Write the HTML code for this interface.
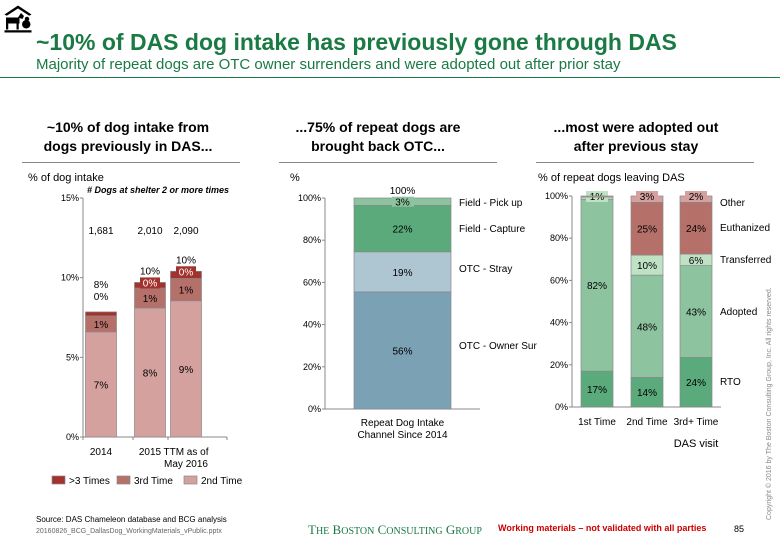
<!DOCTYPE html>
<html><head><meta charset="utf-8">
<style>
body{margin:0;width:780px;height:540px;background:#fff;font-family:"Liberation Sans",sans-serif;overflow:hidden;position:relative}
.t{position:absolute;white-space:nowrap}
</style></head><body>
<svg width="30" height="30" style="position:absolute;left:3px;top:4px" viewBox="0 0 20 20">
<path d="M1 7 L10 1 L19 7 L17.5 7.8 L10 3 L2.5 7.8Z" fill="#000"/>
<rect x="2" y="9" width="9" height="4" fill="#000"/><rect x="2" y="13" width="1.5" height="4" fill="#000"/><rect x="9" y="13" width="1.5" height="4" fill="#000"/>
<path d="M10 9 L12 6 L14 8 L13 10Z" fill="#000"/><circle cx="15.5" cy="13.5" r="2.8" fill="#000"/><circle cx="16" cy="10" r="1.5" fill="#000"/>
<rect x="1" y="17.5" width="18" height="1.5" fill="#000"/></svg>
<div class="t" style="left:36px;top:29px;font-size:23px;font-weight:bold;color:#1a7a43">~10% of DAS dog intake has previously gone through DAS</div>
<div class="t" style="left:36px;top:56px;font-size:15px;color:#1a7a43">Majority of repeat dogs are OTC owner surrenders and were adopted out after prior stay</div>
<div style="position:absolute;left:0;top:77px;width:780px;height:1px;background:#1a7a43"></div>

<div class="t" style="left:28px;top:118px;width:200px;text-align:center;font-size:14px;font-weight:bold;line-height:19px">~10% of dog intake from<br>dogs previously in DAS...</div>
<div class="t" style="left:278px;top:118px;width:200px;text-align:center;font-size:14px;font-weight:bold;line-height:19px">...75% of repeat dogs are<br>brought back OTC...</div>
<div class="t" style="left:536px;top:118px;width:200px;text-align:center;font-size:14px;font-weight:bold;line-height:19px">...most were adopted out<br>after previous stay</div>
<div style="position:absolute;left:22px;top:162px;width:218px;height:1px;background:#888"></div>
<div style="position:absolute;left:279px;top:162px;width:218px;height:1px;background:#888"></div>
<div style="position:absolute;left:536px;top:162px;width:218px;height:1px;background:#888"></div>

<svg id="c" width="780" height="540" style="position:absolute;left:0;top:0" font-family="Liberation Sans, sans-serif" font-size="10"></svg>

<div class="t" style="left:36px;top:515px;font-size:8px">Source: DAS Chameleon database and BCG analysis</div>
<div class="t" style="left:36px;top:528px;font-size:7px;color:#666">20160826_BCG_DallasDog_WorkingMaterials_vPublic.pptx</div>
<div class="t" style="left:308px;top:522px;font-size:13px;font-family:'Liberation Serif',serif;color:#1a7a43">T<span style="font-size:10px">HE</span> B<span style="font-size:10px">OSTON</span> C<span style="font-size:10px">ONSULTING</span> G<span style="font-size:10px">ROUP</span></div>
<div class="t" style="left:498px;top:523px;font-size:9px;font-weight:bold;color:#c00">Working materials – not validated with all parties</div>
<div class="t" style="left:734px;top:524px;font-size:9px">85</div>
<div class="t" style="left:766px;top:520px;font-size:7px;color:#888;transform:rotate(-90deg);transform-origin:0 0">Copyright © 2016 by The Boston Consulting Group, Inc. All rights reserved.</div>

<script>
// Chart 1
const c1Cats=["2014","2015","TTM as of|May 2016"];
const c1Second=[6.6,8.1,8.55];
const c1Third=[1.0,1.25,1.4];
const c1More=[0.25,0.35,0.45];
const c1Counts=["1,681","2,010","2,090"];
const c1TotLbl=["8%","10%","10%"];
const c1SecLbl=["7%","8%","9%"];
const c1ThirdLbl=["1%","1%","1%"];
const c1MoreLbl=["0%","0%","0%"];
const c1Ticks=[0,5,10,15];
// Chart 2
const c2Series=["OTC - Owner Sur","OTC - Stray","Field - Capture","Field - Pick up"];
const c2Vals=[55.5,19,22,3.5];
const c2Lbl=["56%","19%","22%","3%"];
// Chart 3
const c3Cats=["1st Time","2nd Time","3rd+ Time"];
const c3Series=["RTO","Adopted","Transferred","Euthanized","Other"];
const c3Rto=[17,14,23.5];
const c3Adopted=[81.5,48.5,43.5];
const c3Transferred=[1,9.5,5.5];
const c3Euth=[0,25,24.5];
const c3Other=[0.5,3,3];
const c3RtoL=["17%","14%","24%"],c3AdoL=["82%","48%","43%"],c3TrL=["1%","10%","6%"],c3EuL=["","25%","24%"],c3OtL=["","3%","2%"];
const pctTicks=[0,20,40,60,80,100];

const S=document.getElementById('c'),NS='http://www.w3.org/2000/svg';
function el(t,a,txt){const e=document.createElementNS(NS,t);for(const k in a)e.setAttribute(k,a[k]);if(txt!==undefined)e.textContent=txt;S.appendChild(e);return e;}
function tx(x,y,s,anchor,name,extra){const e=el('text',Object.assign({x:x,y:y,'text-anchor':anchor||'middle'},extra||{}),s);

return e;}
function rc(x,y,w,h,f,name){const e=el('rect',{x:x,y:y,width:w,height:Math.max(h,0),fill:f,stroke:'#888','stroke-width':0.7});

return e;}
function ln(x1,y1,x2,y2,name){const e=el('line',{x1:x1,y1:y1,x2:x2,y2:y2,stroke:'#888','stroke-width':1});

}

// ---- chart 1
{const ax=83,y0=437,yt=198,max=15,y=v=>y0-(y0-yt)*v/max,cx=[101,150,186],bw=31;
tx(28,181,"% of dog intake",'start','c1-y-title',{'font-size':11});
tx(87,193,"# Dogs at shelter 2 or more times",'start','c1-annotation',{'font-size':9,'font-weight':'bold','font-style':'italic'});
ln(ax,yt,ax,y0,'c1-y-axis');ln(ax,y0,227,y0,'c1-x-axis');
c1Ticks.forEach(t=>{ln(ax-3,y(t),ax,y(t),'c1-y-tick');tx(ax-4,y(t)+3,t+"%",'end','c1-y-tick-label',{'font-size':9});});
[83,133,168,227].forEach(x=>ln(x,y0,x,y0+3,'c1-x-tick'));
c1Cats.forEach((c,i)=>{const x=cx[i]-bw/2;let b=0;
 rc(x,y(c1Second[i]),bw,y(0)-y(c1Second[i]),'#d4a19f','c1-bar-2nd');
 tx(cx[i],y(c1Second[i]/2)+4,c1SecLbl[i],'middle','c1-label-2nd');
 b=c1Second[i];rc(x,y(b+c1Third[i]),bw,y(b)-y(b+c1Third[i]),'#b5706a','c1-bar-3rd');
 tx(cx[i],y(b+c1Third[i]/2)+4,c1ThirdLbl[i],'middle','c1-label-3rd');
 b+=c1Third[i];rc(x,y(b+c1More[i]),bw,y(b)-y(b+c1More[i]),'#a2322e','c1-bar-more');
 const tot=b+c1More[i];
 if(i==0){tx(cx[i],y(tot)-12,c1MoreLbl[i],'middle','c1-label-more');tx(cx[i],y(tot)-24,c1TotLbl[i],'middle','c1-total');}
 else{el('rect',{x:cx[i]-10,y:y(tot)-5,width:20,height:11,fill:'#a2322e'});tx(cx[i],y(tot)+4,c1MoreLbl[i],'middle','c1-label-more',{fill:'#fff'});tx(cx[i],y(tot)-8,c1TotLbl[i],'middle','c1-total');}
 tx(cx[i],234,c1Counts[i],'middle','c1-count');
 c.split('|').forEach((p,j)=>tx(cx[i],455+j*12,p,'middle','c1-x-label'));
});
const lg=[["#a2322e",">3 Times",52],["#b5706a","3rd Time",117],["#d4a19f","2nd Time",184]];
lg.forEach(l=>{rc(l[2],476,13,8,l[0],'c1-legend-swatch');tx(l[2]+17,484,l[1],'start','c1-legend-label');});
}
// ---- chart 2
{const ax=325,y0=409,yt=198,y=v=>y0-(y0-yt)*v/100,x=354,bw=97,cols=['#7ba1b5','#aec5d2','#5aaa7c','#8dc49f'];
tx(290,181,"%",'start','c2-y-title',{'font-size':11});
ln(ax,yt,ax,y0,'c2-y-axis');ln(ax,y0,480,y0,'c2-x-axis');
pctTicks.forEach(t=>{ln(ax-3,y(t),ax,y(t),'c2-y-tick');tx(ax-4,y(t)+3,t+"%",'end','c2-y-tick-label',{'font-size':9});});
let b=0;c2Vals.forEach((v,i)=>{rc(x,y(b+v),bw,y(b)-y(b+v),cols[i],'c2-bar-segment');
 if(i==3){el('rect',{x:x+38,y:y(b+v/2)-5,width:22,height:10,fill:'#8dc49f'});}
 tx(x+bw/2,y(b+v/2)+4,c2Lbl[i],'middle','c2-segment-label');
 tx(459,[349,272,232,206][i],c2Series[i],'start','c2-series-label');b+=v;});
tx(x+bw/2,y(b)-4,"100%",'middle','c2-total');
tx(x+bw/2,426,"Repeat Dog Intake",'middle','c2-x-label');tx(x+bw/2,438,"Channel Since 2014",'middle','c2-x-label');
}
// ---- chart 3
{const ax=572,y0=407,yt=196,y=v=>y0-(y0-yt)*v/100,cx=[597,647,696],bw=32,
cols=['#5aaa7c','#8dc49f','#bfe2c5','#b5706a','#d4a19f'],
ser=[c3Rto,c3Adopted,c3Transferred,c3Euth,c3Other],lbl=[c3RtoL,c3AdoL,c3TrL,c3EuL,c3OtL];
tx(538,181,"% of repeat dogs leaving DAS",'start','c3-y-title',{'font-size':11});
ln(ax,yt,ax,y0,'c3-y-axis');ln(ax,y0,721,y0,'c3-x-axis');
pctTicks.forEach(t=>{ln(ax-3,y(t),ax,y(t),'c3-y-tick');tx(ax-4,y(t)+3,t+"%",'end','c3-y-tick-label',{'font-size':9});});
c3Cats.forEach((c,i)=>{let b=0;ser.forEach((s,k)=>{const v=s[i];if(v>0)rc(cx[i]-bw/2,y(b+v),bw,y(b)-y(b+v),cols[k],'c3-bar-segment');
 if(lbl[k][i]){let ly=y(b+v/2)+4;if(v<4){ly=y(100)+4;el('rect',{x:cx[i]-11,y:ly-9,width:22,height:11,fill:cols[k]});}
  tx(cx[i],ly,lbl[k][i],'middle','c3-segment-label');}
 b+=v;});
 tx(cx[i],425,c,'middle','c3-x-label');});
[["RTO",385],["Adopted",315],["Transferred",263],["Euthanized",231],["Other",206]].forEach(s=>tx(720,s[1],s[0],'start','c3-series-label'));
tx(696,447,"DAS visit",'middle','c3-x-title',{'font-size':11});
}
</script>
</body></html>
